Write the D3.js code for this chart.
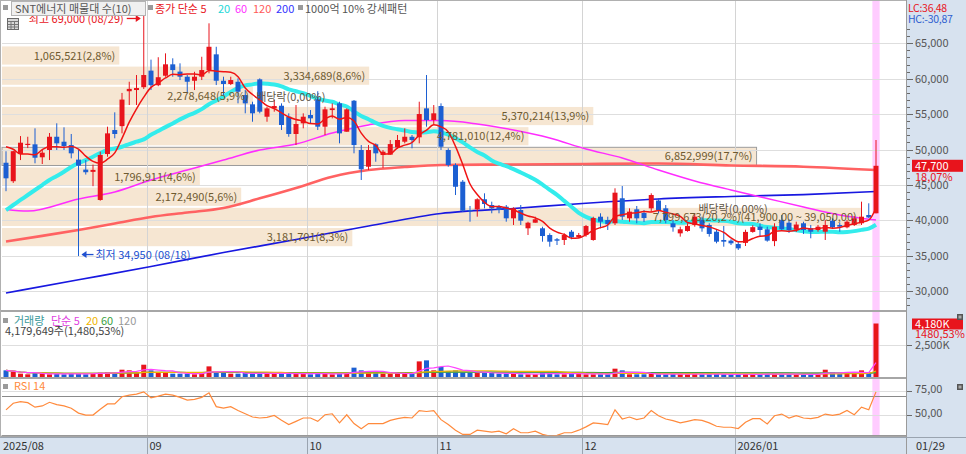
<!DOCTYPE html>
<html><head><meta charset="utf-8">
<script src="https://cdn.jsdelivr.net/npm/d3@7/dist/d3.min.js"></script>
<style>
body{margin:0;background:#fff;overflow:hidden;}
svg text{font-family:"Noto Sans CJK KR","Noto Sans",sans-serif;font-size:11px;}
</style></head>
<body><svg id="c" width="966" height="454"></svg>
<script>
// ---------- DATA ----------
const augDays=[1,4,5,6,7,8,11,12,13,14,18,19,20,21,22,25,26,27,28,29];
const sepDays=[1,2,3,4,5,8,9,10,11,12,15,16,17,18,19,22,23,24,25,26,29,30];
const octDays=[1,2,10,13,14,15,16,17,20,21,22,23,24,27,28,29,30,31];
const novDays=[3,4,5,6,7,10,11,12,13,14,17,18,19,20,21,24,25,26,27,28];
const decDays=[1,2,3,4,5,8,9,10,11,12,15,16,17,18,19,22,23,24,26,29,30];
const janDays=[2,5,6,7,8,9,12,13,14,15,16,19,20,21,22,23,26,27,28,29];
const monthKeys=["2025-08","2025-09","2025-10","2025-11","2025-12","2026-01"];
const monthLabels=["2025/08","09","10","11","12","2026/01"];
const lastDateLabel="01/29";

const open=[48130,45520,49360,50650,50730,48900,49930,51800,51100,50630,
48570,47160,46840,42870,49360,52750,53290,58230,58400,58800,
61140,59080,60420,62030,61000,60280,59710,60280,61220,63440,
59710,59250,59570,57690,56380,59910,54630,55810,56180,54630,
52190,53700,54870,57090,53220,55570,56520,52510,56890,49930,
47570,50730,49220,49270,50300,51100,51800,51720,55810,54160,
56140,49930,47810,45450,41450,41550,42970,42160,41920,41920,
40280,41450,38870,39660,38870,37920,37320,37220,38390,37600,
37920,37220,40510,40040,39580,43110,40280,41550,41030,41690,
42790,41690,39580,38160,38490,39340,40040,39340,38390,37220,
37130,36650,36810,38360,39100,38730,37060,40040,39660,38690,
39580,38870,38630,38390,39940,39340,39010,39340,39580,40750,
40990];
const high=[49750,49800,51900,51800,52990,49930,52330,53700,53130,52190,
49930,48510,47870,49690,53220,55250,57990,59570,60520,69000,
62690,63030,63580,62880,62170,60520,60980,63100,67820,64510,
60280,60280,60050,58400,56750,60050,56040,57000,56520,55110,
56280,55110,55570,58230,56040,56510,56750,55810,56990,50630,
50630,50870,49930,51340,52050,52990,52050,56750,60520,56280,
56520,50170,48050,45690,42020,43110,43810,42630,42160,42160,
41830,42160,39800,40510,39100,38160,37500,38160,38630,38210,
39340,40510,40990,40510,44520,44840,41690,42020,41450,43810,
43110,42160,40040,39100,39580,40990,40510,39580,38730,39200,
37320,36980,38670,39300,39580,39100,39580,40750,40140,39800,
39800,39340,39340,40040,40280,39660,40040,40610,42630,42400,
51340];
const low=[44110,45280,48510,50200,48050,47950,48510,49930,49930,48750,
34950,46460,44820,42770,48980,51580,52280,56280,56280,58540,
58400,58940,60280,60280,59810,57930,58400,59810,60760,59100,
57690,59100,56520,55110,53920,55110,53920,55340,52750,51800,
50630,52990,53700,52750,52040,54400,50870,52510,49460,45690,
47100,48270,47380,49270,50110,50870,50170,50870,53220,53460,
49930,47570,43570,41170,39800,40510,41690,40990,40990,39800,
39340,39340,37920,39660,36980,36270,36510,36510,37320,37500,
37680,37120,38870,38630,39340,40040,39800,39580,39760,41220,
40990,39580,38390,37690,38390,39100,38390,37690,36750,36270,
36510,35810,36370,38250,37690,36980,36350,38630,38220,38360,
38070,37460,38390,37220,38870,38390,38870,39200,39340,40320,
40990];
const close=[45930,49760,50960,50800,48840,49550,51800,50870,50490,49460,
47720,46790,47120,49220,52280,52190,57050,58560,58680,60520,
59080,60210,62030,61220,60280,59570,60280,61220,64510,59710,
59250,59810,58160,56520,55110,55340,55810,56140,53460,52190,
53600,54630,54400,53220,55670,55810,52280,55670,50630,47200,
49930,49460,49690,50770,51340,51800,51340,55010,54160,55110,
50390,47810,44740,41360,41310,42970,42300,41690,41450,40280,
41690,39940,39660,40140,37780,36980,37120,37920,37600,37920,
39190,40320,39800,39440,43900,40510,41220,40280,40320,43570,
41450,40040,39010,38730,39190,40510,38870,38070,36980,36980,
36750,36040,38360,39030,38630,37130,39100,38730,38630,39400,
38630,38390,39100,39340,39010,39100,39800,40280,40510,40400,
47700];
const volume=[520000,390000,260000,210000,310000,260000,210000,260000,210000,310000,
260000,210000,310000,340000,390000,310000,570000,520000,390000,960000,
520000,310000,310000,260000,260000,260000,210000,310000,830000,390000,
310000,260000,260000,310000,260000,310000,260000,260000,310000,260000,
260000,260000,210000,310000,260000,210000,260000,310000,730000,520000,
390000,310000,260000,260000,310000,260000,260000,1220000,1300000,520000,
780000,470000,520000,390000,340000,310000,310000,310000,260000,260000,
260000,210000,210000,210000,310000,360000,210000,210000,260000,310000,
210000,210000,210000,210000,650000,520000,210000,210000,210000,260000,
210000,210000,230000,210000,210000,230000,210000,210000,230000,210000,
190000,210000,230000,210000,210000,230000,260000,210000,210000,210000,
190000,210000,210000,570000,390000,260000,390000,260000,520000,264446,
4179649];
const rsi=[55.6,62.3,63.9,62.9,58.3,59.6,63.3,60.9,59.6,57.3,
52.3,50.3,50.3,56.3,61.6,61.6,68.9,70.6,71.6,73.9,
67.9,69.6,71.6,70.6,68.3,65.6,66.3,68.3,72.9,58.9,
57.3,58.9,54.9,51.6,48.3,47.3,47.9,49.9,44.9,40.6,
43.9,47.3,47.3,43.9,50.6,51.6,42.3,50.6,41.6,36.3,
41.6,41.6,41.6,44.9,46.6,47.9,47.3,54.9,53.9,54.9,
45.6,40.6,34.9,30.6,30.6,34.9,33.9,32.9,33.9,31.3,
36.3,32.3,32.3,33.9,30.6,28.9,29.6,32.3,32.3,34.9,
38.3,42.3,41.6,40.6,55.6,46.3,48.3,45.6,47.3,54.9,
49.6,46.3,44.6,42.3,43.9,45.6,44.9,42.3,38.9,37.9,
37.9,36.6,42.9,46.6,46.6,41.3,49.6,51.3,47.3,49.6,
47.3,46.6,47.9,51.3,49.9,51.3,54.9,50.6,58.3,55.6,
73.9];
// moving averages (history before 08/01 not shown)
const ma5Head=[50390,50030,49360,49360];
const ma20Head=[41450,42160,42870,43570,44280,44980,45690,46260,46860,47530,48090,48510,48980,49500,49930,50140,50390,50770,51100];
const ma60Idx=[0,3,10,15,20,25,30,35,40,45,50,55,60,65,70,75,80,85,90,95,100,105,110,115,120];
const ma60Val=[41520,41300,43010,44000,45690,47100,48510,49930,50770,52330,53470,54090,54090,53610,52750,51620,50070,48800,47100,45550,44280,43080,41880,40750,40040];
const ma120Idx=[0,5,10,15,20,25,30,35,40,45,50,55,60,70,80,90,100,110,120];
const ma120Val=[37010,37800,38630,39550,40470,41100,41750,43100,44560,46160,47100,47530,47810,47880,47950,48020,47750,47570,47100];
const ma200Idx=[0,10,20,30,40,50,60,70,80,90,100,110,120];
const ma200Val=[29730,31600,33480,35450,37290,39200,40960,41670,42410,43010,43360,43640,44070];
// volume profile (매물대 10)
const profileLow=[36200,39050,41900,44750,47600,50450,53300,56150,59000,61850];
const profileStep=2850;
const profileVol=[3181701,7799673,2172490,1796911,6852999,4781010,5370214,2278648,3334689,1065521];
const profilePct=["8,3","20,2","5,6","4,6","17,7","12,4","13,9","5,9","8,6","2,8"];
const priceTicks=[30000,35000,40000,45000,50000,55000,60000,65000];
const exDivIdx=[35,96];
const exDivPrice=[56900,41050];
const highIdx=19, lowIdx=10;

// ---------- BUILD ----------
const pad=n=>String(n).padStart(2,"0");
const dayLists=[augDays,sepDays,octDays,novDays,decDays,janDays];
const dates=[];
dayLists.forEach((ds,m)=>ds.forEach(d=>dates.push(monthKeys[m]+"-"+pad(d))));
const N=dates.length;
const fmt=d3.format(",");

const svg=d3.select("#c");
const W=966,H=454,plotL=2,plotR=906;
const volTop=312,volBot=377,rsiTop=379,axisTop=437;

const x=d3.scaleBand().domain(dates).range([2.375,2.375+N*7.25]).padding(0);
const cx=i=>x(dates[i])+x.bandwidth()/2;
const y=d3.scaleLinear().domain([40000,65000]).range([220.3,43.3]);
const yv=d3.scaleLinear().domain([0,2500000]).range([volBot,345]);
const yr=d3.scaleLinear().domain([30,70]).range([435,395.7]);
const bandX=d3.scaleLinear().domain([0,d3.max(profileVol)]).range([plotL,plotL+0.95*(plotR-plotL)]);

const UP="#e8141c",DN="#1c5fd2";
const col=i=>close[i]>=open[i]?UP:DN;

// backgrounds
svg.append("rect").attr("width",W).attr("height",H).attr("fill","#fff");
svg.append("rect").attr("x",plotR).attr("y",0).attr("width",W-plotR).attr("height",H).attr("fill","#d7e2ef");
svg.append("rect").attr("x",0).attr("y",axisTop).attr("width",W).attr("height",H-axisTop).attr("fill","#d7e2ef");
svg.append("rect").attr("x",x(dates[N-1])).attr("y",0).attr("width",x.bandwidth()).attr("height",axisTop).attr("fill","#ffccff");

// volume profile bands
const curBand=profileLow.findIndex(l=>close[N-1]>=l&&close[N-1]<l+profileStep);
const maxBand=profileVol.indexOf(d3.max(profileVol));
const gP=svg.append("g");
profileLow.forEach((lo,k)=>{
  const y1=y(lo+profileStep),y2=y(lo);
  gP.append("rect").attr("x",plotL).attr("y",y1+1).attr("width",bandX(profileVol[k])-plotL)
    .attr("height",y2-y1-2).attr("fill","#f6e6d2")
    .attr("stroke",k===curBand?"#9c9c9c":"none").attr("stroke-width",1);
});

// grid
const gG=svg.append("g").attr("stroke","#dedede").attr("stroke-width",1);
priceTicks.forEach(t=>gG.append("line").attr("x1",plotL).attr("x2",plotR).attr("y1",Math.round(y(t))+0.5).attr("y2",Math.round(y(t))+0.5));
const monthStart=monthKeys.map(mk=>dates.find(d=>d.startsWith(mk)));
monthStart.forEach((d,k)=>{ if(k===0) return;
  gG.append("line").attr("x1",Math.round(x(d))+0.5).attr("x2",Math.round(x(d))+0.5).attr("y1",0).attr("y2",axisTop).attr("stroke","#d4d4d4");
});
gG.append("line").attr("x1",plotL).attr("x2",plotR).attr("y1",Math.round(yv(2500000))+0.5).attr("y2",Math.round(yv(2500000))+0.5);
[75,50].forEach(v=>gG.append("line").attr("x1",plotL).attr("x2",plotR).attr("y1",Math.round(yr(v))+0.5).attr("y2",Math.round(yr(v))+0.5));
[70,30].forEach(v=>svg.append("line").attr("x1",plotL).attr("x2",plotR).attr("y1",Math.round(yr(v))+0.5).attr("y2",Math.round(yr(v))+0.5).attr("stroke","#8a8a8a"));

// moving averages
const ma5=close.map((c,i)=>i<4?ma5Head[i]:d3.mean(close.slice(i-4,i+1)));
const ma20=close.map((c,i)=>i<19?ma20Head[i]:d3.mean(close.slice(i-19,i+1)));
const lineIdx=d3.line().x(d=>cx(d[0])).y(d=>y(d[1])).curve(d3.curveMonotoneX);
const drawMA=(idx,val,color,w)=>svg.append("path").attr("d",lineIdx(idx.map((ii,k)=>[ii,val[k]]))).attr("fill","none").attr("stroke",color).attr("stroke-width",w).attr("stroke-linejoin","round");
drawMA(ma200Idx,ma200Val,"#1818e0",1.7);
drawMA(ma120Idx,ma120Val,"#ff6262",2.6);
drawMA(ma60Idx,ma60Val,"#ff2cff",1.5);
drawMA(d3.range(N),ma20,"#33ecec",4);

// candles
const gC=svg.append("g");
d3.range(N).forEach(i=>{
  const c=col(i);
  gC.append("line").attr("x1",cx(i)).attr("x2",cx(i)).attr("y1",y(high[i])).attr("y2",y(low[i])).attr("stroke",c).attr("stroke-width",1);
  const top=y(Math.max(open[i],close[i])),bot=y(Math.min(open[i],close[i]));
  gC.append("rect").attr("x",cx(i)-2.5).attr("y",top).attr("width",5).attr("height",Math.max(1.2,bot-top)).attr("fill",c);
});
drawMA(d3.range(N),ma5,"#f01414",1.5);

// profile labels
profileLow.forEach((lo,k)=>{
  const y1=y(lo+profileStep),y2=y(lo);
  let t=fmt(profileVol[k])+"("+profilePct[k]+"%)";
  if(k===maxBand) t+="("+fmt(lo+profileStep)+",00 ~ "+fmt(lo)+",00)";
  svg.append("text").attr("x",bandX(profileVol[k])-4).attr("y",(y1+y2)/2+4).attr("text-anchor","end").attr("fill","#6e5a30").text(t);
});
// ex-dividend labels
exDivIdx.forEach((ii,k)=>svg.append("text").attr("x",x(dates[ii])).attr("y",y(exDivPrice[k])).attr("fill","#5e5444").text("배당락(0,00%)"));

// high / low annotations
{
  const hx=cx(highIdx),hy=y(high[highIdx]);
  svg.append("text").attr("x",hx-20).attr("y",hy+8).attr("text-anchor","end").attr("fill",UP).text("최고 "+fmt(high[highIdx])+" (08/29)");
  svg.append("line").attr("x1",hx-17).attr("x2",hx-4).attr("y1",hy+3.5).attr("y2",hy+3.5).attr("stroke",UP).attr("stroke-width",1.3);
  svg.append("path").attr("d",`M${hx-3},${hy+3.5}l-5,-3.5v7z`).attr("fill",UP);
  const lx=cx(lowIdx),ly=y(low[lowIdx]);
  svg.append("line").attr("x1",lx+4).attr("x2",lx+15).attr("y1",ly-1.5).attr("y2",ly-1.5).attr("stroke","#2050d0").attr("stroke-width",1.3);
  svg.append("path").attr("d",`M${lx+3},${ly-1.5}l5,-3.5v7z`).attr("fill","#2050d0");
  svg.append("text").attr("x",lx+17).attr("y",ly+2.5).attr("fill","#2050d0").text("최저 "+fmt(low[lowIdx])+" (08/18)");
}

// volume bars
d3.range(N).forEach(i=>{
  svg.append("rect").attr("x",cx(i)-2.5).attr("y",yv(volume[i])).attr("width",5).attr("height",volBot-yv(volume[i])).attr("fill",col(i));
});
const vma=n=>volume.map((v,i)=>d3.mean(volume.slice(Math.max(0,i-n+1),i+1)));
const lv=d3.line().x((d,i)=>cx(i)).y(d=>yv(d));
[[120,"#a8a8a8"],[60,"#3aa040"],[20,"#f0b400"],[5,"#ff44ff"]].forEach(([n,c])=>svg.append("path").attr("d",lv(vma(n))).attr("fill","none").attr("stroke",c).attr("stroke-width",1.2));

// rsi
svg.append("path").attr("d",d3.line().x((d,i)=>cx(i)).y(d=>yr(d))(rsi)).attr("fill","none").attr("stroke","#ff8a3c").attr("stroke-width",1.2);

// separators & borders
[311,378,436.5].forEach(yy=>svg.append("line").attr("x1",0).attr("x2",plotR).attr("y1",yy).attr("y2",yy).attr("stroke","#a6a6a6").attr("stroke-width",2));
svg.append("line").attr("x1",0).attr("x2",plotR).attr("y1",0.5).attr("y2",0.5).attr("stroke","#b0b0b0");
svg.append("line").attr("x1",0.5).attr("x2",0.5).attr("y1",0).attr("y2",axisTop).attr("stroke","#b0b0b0");
svg.append("line").attr("x1",plotR+0.5).attr("x2",plotR+0.5).attr("y1",0).attr("y2",H).attr("stroke","#9a9a9a");
svg.append("line").attr("x1",0).attr("x2",W).attr("y1",axisTop+0.5).attr("y2",axisTop+0.5).attr("stroke","#9aa4b0");

// right price axis
d3.range(28000,71001,1000).forEach(v=>{
  const yy=Math.round(y(v))+0.5;
  if(yy<26) return;
  svg.append("line").attr("x1",plotR+1).attr("x2",plotR+(v%5000===0?7:4)).attr("y1",yy).attr("y2",yy).attr("stroke","#6a6a6a");
});
priceTicks.forEach(t=>svg.append("text").attr("x",plotR+9).attr("y",y(t)+4).attr("fill","#555").text(fmt(t)));
// LC / HC
const lc=(close[N-1]/d3.min(low)-1)*100, hc=(close[N-1]/d3.max(high)-1)*100;
const kfmt=v=>v.toFixed(2).replace(".",",");
svg.append("text").attr("x",plotR+2).attr("y",12).attr("fill",UP).style("font-size","10.5px").style("letter-spacing","-0.3px").text("LC:"+kfmt(lc));
svg.append("text").attr("x",plotR+2).attr("y",23).attr("fill","#2f5fd0").style("font-size","10.5px").style("letter-spacing","-0.3px").text("HC:"+kfmt(hc));
// current price
{
  const cy=y(close[N-1]);
  svg.append("rect").attr("x",plotR+6).attr("y",cy-6).attr("width",51).attr("height",12).attr("fill",UP);
  svg.append("text").attr("x",plotR+9).attr("y",cy+4).attr("fill","#fff").text(fmt(close[N-1]));
  const chg=(close[N-1]/close[N-2]-1)*100;
  svg.append("text").attr("x",plotR+9).attr("y",cy+15).attr("fill",UP).text(kfmt(chg)+"%");
}
// volume axis
{
  const vy=yv(volume[N-1]);
  svg.append("rect").attr("x",plotR+6).attr("y",vy-5).attr("width",51).attr("height",11).attr("fill",UP);
  svg.append("text").attr("x",plotR+9).attr("y",vy+4.5).attr("fill","#fff").text(fmt(Math.round(volume[N-1]/1000))+"K");
  const vchg=volume[N-1]/volume[N-2]*100-100;
  svg.append("text").attr("x",plotR+9).attr("y",vy+14).attr("fill",UP).text(vchg.toFixed(2).replace(".",",")+"%");
  svg.append("line").attr("x1",plotR+1).attr("x2",plotR+6).attr("y1",Math.round(yv(2500000))+0.5).attr("y2",Math.round(yv(2500000))+0.5).attr("stroke","#6a6a6a");
  svg.append("text").attr("x",plotR+9).attr("y",yv(2500000)+4).attr("fill","#555").text("2,500K");
}
// rsi axis
[75,50].forEach(v=>{
  svg.append("line").attr("x1",plotR+1).attr("x2",plotR+6).attr("y1",Math.round(yr(v))+0.5).attr("y2",Math.round(yr(v))+0.5).attr("stroke","#6a6a6a");
  svg.append("text").attr("x",plotR+9).attr("y",yr(v)+2).attr("fill","#555").text(v.toFixed(2).replace(".",","));
});
// small panel icons
[314,384].forEach(iy=>{
  svg.append("rect").attr("x",957).attr("y",iy).attr("width",6).attr("height",6).attr("fill","#555");
  svg.append("rect").attr("x",958.5).attr("y",iy+1.5).attr("width",3).attr("height",3).attr("fill","#aaa");
});

// date axis
monthStart.forEach((d,k)=>{
  const xx=Math.round(x(d))+0.5;
  if(k>0) svg.append("line").attr("x1",xx).attr("x2",xx).attr("y1",axisTop).attr("y2",H).attr("stroke","#9aa4b0");
  svg.append("text").attr("x",(k===0?3:xx+2)).attr("y",450).attr("fill","#333").text(monthLabels[k]);
});
svg.append("text").attr("x",plotR+10).attr("y",450).attr("fill","#333").text(lastDateLabel);

// legends
const sq=(xx,yy)=>svg.append("rect").attr("x",xx).attr("y",yy).attr("width",5).attr("height",5).attr("fill","#9a9a9a");
sq(3,5);
svg.append("rect").attr("x",11.5).attr("y",1.5).attr("width",134).attr("height",14).attr("fill","#f0f0f0").attr("stroke","#b4b4b4");
svg.append("text").attr("x",15).attr("y",13).attr("fill","#555").text("SNT에너지 매물대 수(10)");
sq(148,5);
[["종가 단순 5",155,UP],["20",218,"#1ed8d8"],["60",235,"#ff30ff"],["120",253,"#ff5a5a"],["200",276,"#3434ff"]].forEach(([t,xx,c])=>svg.append("text").attr("x",xx).attr("y",13).attr("fill",c).text(t));
sq(298,5);
svg.append("text").attr("x",305).attr("y",13).attr("fill","#555").text("1000억 10% 강세패턴");
// calendar icon
svg.append("rect").attr("x",7.5).attr("y",18.5).attr("width",11).attr("height",11).attr("fill","#d8d8d8").attr("stroke","#6a6a6a");
[21.5,24.5,27].forEach(yy=>svg.append("line").attr("x1",8).attr("x2",18).attr("y1",yy).attr("y2",yy).attr("stroke","#777"));
[11,14.5].forEach(xx=>svg.append("line").attr("x1",xx).attr("x2",xx).attr("y1",21).attr("y2",29).attr("stroke","#777"));
// volume legend
sq(3,318);
[["거래량",14,"#3a9a9a"],["단순 5",51,"#e040e0"],["20",86,"#f0b400"],["60",101,"#3aa040"],["120",118,"#999"]].forEach(([t,xx,c])=>svg.append("text").attr("x",xx).attr("y",325).attr("fill",c).text(t));
svg.append("text").attr("x",5).attr("y",335).attr("fill","#444").text(fmt(volume[N-1])+"주(1,480,53%)");
// rsi legend
sq(3,384);
svg.append("text").attr("x",14).attr("y",390).attr("fill","#ff8a3c").text("RSI 14");
</script></body></html>
